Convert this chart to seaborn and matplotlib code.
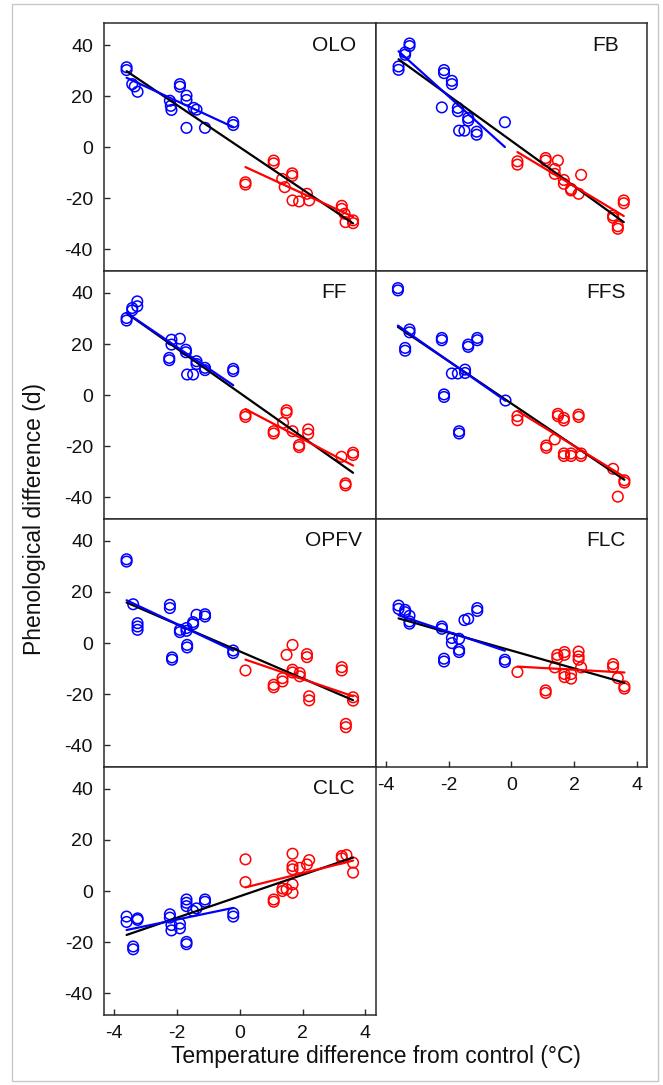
import numpy as np
import matplotlib
matplotlib.use("Agg")
import matplotlib.pyplot as plt
from matplotlib.patches import Rectangle
import seaborn as sns

# Temperature difference from control (degC) and phenological difference (d)
# for cooled (negative) and warmed (positive) plots, per phenophase.
olo_cool_t = [-3.61, -3.61, -3.43, -3.35, -3.26, -2.23, -2.18, -2.20, -1.91, -1.91,
              -1.70, -1.70, -1.70, -1.47, -1.38, -1.11, -0.21, -0.21]
olo_cool_d = [31.3, 30.2, 24.7, 23.8, 21.7, 18.2, 14.6, 16.2, 24.7, 23.7,
              20.2, 18.5, 7.6, 15.4, 14.7, 7.6, 9.8, 8.7]
olo_warm_t = [0.18, 0.18, 1.08, 1.08, 1.35, 1.43, 1.67, 1.67, 1.68, 1.89,
              2.14, 2.21, 3.25, 3.25, 3.34, 3.37, 3.61, 3.61]
olo_warm_d = [-13.7, -14.6, -5.2, -6.3, -12.4, -15.6, -10.2, -11.2, -20.8, -21.2,
              -18.2, -20.8, -22.9, -24.1, -26.0, -29.3, -28.6, -29.7]

fb_cool_t = [-3.60, -3.60, -3.39, -3.39, -3.25, -3.25, -2.15, -2.15, -1.90, -1.90,
             -2.22, -1.71, -1.71, -1.38, -1.38, -1.67, -1.50, -1.11, -1.11, -0.21]
fb_cool_d = [31.6, 30.3, 37.1, 36.2, 40.6, 39.6, 30.2, 29.0, 26.0, 24.7,
             15.6, 15.4, 14.1, 11.5, 10.4, 6.5, 6.5, 6.1, 4.9, 9.8]
fb_warm_t = [0.19, 0.19, 1.09, 1.09, 1.48, 1.38, 1.38, 1.67, 1.67, 1.90,
             1.90, 2.14, 2.22, 3.24, 3.24, 3.39, 3.39, 3.58, 3.58]
fb_warm_d = [-5.5, -6.8, -4.2, -5.2, -5.2, -8.5, -10.4, -12.8, -14.3, -16.3,
             -16.9, -18.2, -10.8, -26.7, -27.6, -30.9, -31.9, -20.8, -21.9]

ff_cool_t = [-3.61, -3.61, -3.43, -3.43, -3.27, -3.27, -2.18, -2.18, -1.91, -2.25,
             -2.25, -1.72, -1.72, -1.38, -1.38, -1.68, -1.49, -1.11, -1.11, -0.21, -0.21]
ff_cool_d = [30.2, 29.2, 34.1, 33.2, 36.7, 34.8, 21.7, 19.8, 22.1, 14.6,
             13.7, 17.8, 16.8, 13.3, 12.2, 8.1, 8.1, 10.7, 9.8, 10.3, 9.4]
ff_warm_t = [0.18, 0.18, 1.08, 1.08, 1.49, 1.49, 1.38, 1.68, 1.89, 1.89,
             2.18, 2.18, 3.24, 3.37, 3.37, 3.61, 3.61]
ff_warm_d = [-7.6, -8.5, -14.1, -15.0, -5.9, -6.9, -10.8, -14.1, -19.5, -20.3,
             -13.4, -15.1, -24.1, -34.5, -35.3, -22.5, -23.4]

ffs_cool_t = [-3.62, -3.62, -3.25, -3.25, -3.39, -3.39, -2.22, -2.22, -2.15, -2.15,
              -1.90, -1.71, -1.48, -1.48, -1.38, -1.38, -1.09, -1.09, -1.67, -1.67, -0.19]
ffs_cool_d = [41.9, 41.0, 25.7, 24.6, 18.5, 17.4, 22.4, 21.5, 0.3, -0.7,
              8.5, 8.5, 10.0, 8.7, 19.8, 18.9, 22.4, 21.5, -14.1, -15.0, -2.1]
ffs_warm_t = [0.19, 0.19, 1.11, 1.11, 1.38, 1.48, 1.48, 1.67, 1.67, 2.14,
              2.14, 1.67, 1.90, 2.22, 1.67, 1.90, 2.22, 3.24, 3.39, 3.60, 3.60]
ffs_warm_d = [-8.2, -9.8, -19.7, -20.6, -17.3, -7.3, -8.2, -8.9, -9.9, -7.6,
              -8.5, -22.8, -22.8, -22.8, -23.8, -23.8, -23.8, -28.8, -39.7, -33.3, -34.2]

opfv_cool_t = [-3.61, -3.61, -3.40, -3.26, -3.26, -3.26, -2.23, -2.23, -2.16, -2.16,
               -1.91, -1.91, -1.70, -1.70, -1.68, -1.68, -1.49, -1.49, -1.38, -1.11,
               -1.11, -0.21, -0.21]
opfv_cool_d = [32.8, 31.9, 15.2, 7.8, 6.5, 5.2, 15.0, 13.7, -5.6, -6.5,
               5.2, 4.3, 5.9, 4.8, -0.7, -1.7, 8.2, 7.4, 11.1, 11.3,
               10.4, -2.9, -3.9]
opfv_warm_t = [0.18, 1.08, 1.08, 1.36, 1.36, 1.49, 1.68, 1.68, 1.68, 1.91,
               1.91, 2.14, 2.14, 2.21, 2.21, 3.25, 3.25, 3.38, 3.38, 3.61, 3.61]
opfv_warm_d = [-10.7, -16.3, -17.3, -13.7, -15.0, -4.6, -0.7, -10.4, -11.5, -11.7,
               -13.0, -4.3, -5.5, -20.8, -22.4, -9.4, -10.7, -31.6, -32.9, -21.2, -22.5]

flc_cool_t = [-3.60, -3.60, -3.39, -3.39, -3.25, -3.25, -3.25, -2.22, -2.22, -2.15,
              -2.15, -1.90, -1.90, -1.67, -1.67, -1.67, -1.50, -1.38, -1.09, -1.09,
              -0.21, -0.21]
flc_cool_d = [14.7, 13.4, 13.0, 12.1, 10.7, 8.5, 7.6, 6.5, 5.6, -6.1,
              -7.2, 2.0, 0.0, 1.7, -2.6, -3.5, 9.0, 9.5, 13.7, 12.6,
              -6.5, -7.4]
flc_warm_t = [0.19, 1.09, 1.09, 1.38, 1.46, 1.46, 1.69, 1.69, 1.69, 1.69,
              1.90, 1.90, 2.14, 2.14, 2.14, 2.22, 3.24, 3.24, 3.39, 3.60, 3.60]
flc_warm_d = [-11.3, -18.5, -19.5, -9.5, -4.6, -5.9, -3.5, -4.6, -12.1, -13.3,
              -12.1, -13.9, -3.3, -5.2, -6.5, -9.5, -8.2, -9.4, -13.7, -16.9, -17.8]

clc_cool_t = [-3.61, -3.61, -3.26, -3.26, -3.40, -3.40, -2.23, -2.23, -2.18, -2.18,
              -1.91, -1.91, -1.70, -1.70, -1.70, -1.70, -1.70, -1.49, -1.38, -1.11,
              -1.11, -0.21, -0.21]
clc_cool_d = [-10.0, -12.1, -10.7, -11.3, -21.7, -22.8, -9.1, -10.4, -13.3, -15.4,
              -12.8, -14.6, -3.3, -4.6, -5.9, -19.9, -20.8, -7.8, -6.8, -3.3,
              -4.2, -8.7, -10.0]
clc_warm_t = [0.18, 0.18, 1.08, 1.08, 1.36, 1.36, 1.49, 1.68, 1.68, 1.68,
              1.68, 1.68, 1.91, 2.14, 2.21, 3.25, 3.25, 3.40, 3.61, 3.61]
clc_warm_d = [12.4, 3.5, -3.3, -4.2, 1.0, 0.0, 0.7, 14.6, 9.8, 8.5,
              2.6, -0.7, 9.1, 10.4, 12.1, 13.7, 12.8, 14.1, 11.1, 7.2]

panel_names = ["OLO", "FB", "FF", "FFS", "OPFV", "FLC", "CLC"]
panel_data = [
    (olo_cool_t, olo_cool_d, olo_warm_t, olo_warm_d),
    (fb_cool_t, fb_cool_d, fb_warm_t, fb_warm_d),
    (ff_cool_t, ff_cool_d, ff_warm_t, ff_warm_d),
    (ffs_cool_t, ffs_cool_d, ffs_warm_t, ffs_warm_d),
    (opfv_cool_t, opfv_cool_d, opfv_warm_t, opfv_warm_d),
    (flc_cool_t, flc_cool_d, flc_warm_t, flc_warm_d),
    (clc_cool_t, clc_cool_d, clc_warm_t, clc_warm_d),
]
x_ticks = [-4, -2, 0, 2, 4]
y_ticks = [-40, -20, 0, 20, 40]

sns.set_theme(style="white")
plt.rcParams["font.family"] = ["Liberation Sans", "DejaVu Sans"]
plt.rcParams["axes.unicode_minus"] = False

W, H = 663, 1085
fig, axes = plt.subplots(4, 2, figsize=(W / 100, H / 100), dpi=100,
                         sharex=True, sharey=True)
fig.subplots_adjust(left=104 / W, right=647.3 / W, top=1 - 23.3 / H,
                    bottom=70 / H, wspace=0, hspace=0)
axes[3, 1].remove()

spine_col = "#2b2b2b"
pt_kws = dict(facecolors="none", s=58, linewidths=1.1, alpha=1, zorder=2)

for i, (name, (ct, cd, wt, wd)) in enumerate(zip(panel_names, panel_data)):
    ax = axes.flat[i]
    all_t = np.concatenate([ct, wt])
    all_d = np.concatenate([cd, wd])

    sns.regplot(x=np.asarray(ct), y=np.asarray(cd), ax=ax, fit_reg=False,
                color="blue", scatter_kws=pt_kws)
    sns.regplot(x=np.asarray(wt), y=np.asarray(wd), ax=ax, fit_reg=False,
                color="red", scatter_kws=pt_kws)
    sns.regplot(x=all_t, y=all_d, ax=ax, scatter=False, ci=None,
                color="black", line_kws=dict(lw=1.6, zorder=3))
    sns.regplot(x=np.asarray(ct), y=np.asarray(cd), ax=ax, scatter=False,
                ci=None, color="blue", line_kws=dict(lw=1.6, zorder=4))
    sns.regplot(x=np.asarray(wt), y=np.asarray(wd), ax=ax, scatter=False,
                ci=None, color="red", line_kws=dict(lw=1.6, zorder=4))

    ax.text(3.0, 40, name, ha="center", va="center", fontsize=15,
            color="#111111")

    ax.set_xlim(-4.33, 4.33)
    ax.set_ylim(-48.5, 48.5)
    ax.set_xticks(x_ticks)
    ax.set_yticks(y_ticks)
    ax.set_xlabel("")
    ax.set_ylabel("")
    for sp in ax.spines.values():
        sp.set_color(spine_col)
        sp.set_linewidth(1.1)

    left_col = (i % 2 == 0)
    bottom_row = name in ("FLC", "CLC")
    ax.tick_params(axis="both", direction="in", length=4, width=1,
                   color=spine_col, labelsize=14, labelcolor="#111111")
    ax.tick_params(axis="y", left=left_col, labelleft=left_col,
                   right=False, labelright=False, pad=8)
    ax.tick_params(axis="x", bottom=bottom_row, labelbottom=bottom_row,
                   top=False, labeltop=False, pad=7)

fig.text(35 / W, 1 - 519 / H, "Phenological difference (d)", rotation=90,
         ha="center", va="center", fontsize=16.5, color="#111111")
fig.text(375.5 / W, 1 - 1057 / H, "Temperature difference from control (\u00b0C)",
         ha="center", va="center", fontsize=16.5, color="#111111")

# thin light frame around the whole figure
fig.patches.append(Rectangle((12 / W, 4 / H), (658 - 12) / W, (1081 - 4) / H,
                             transform=fig.transFigure, fill=False,
                             edgecolor="#c8c8c8", linewidth=1.0))

fig.savefig("out.png", dpi=100)
